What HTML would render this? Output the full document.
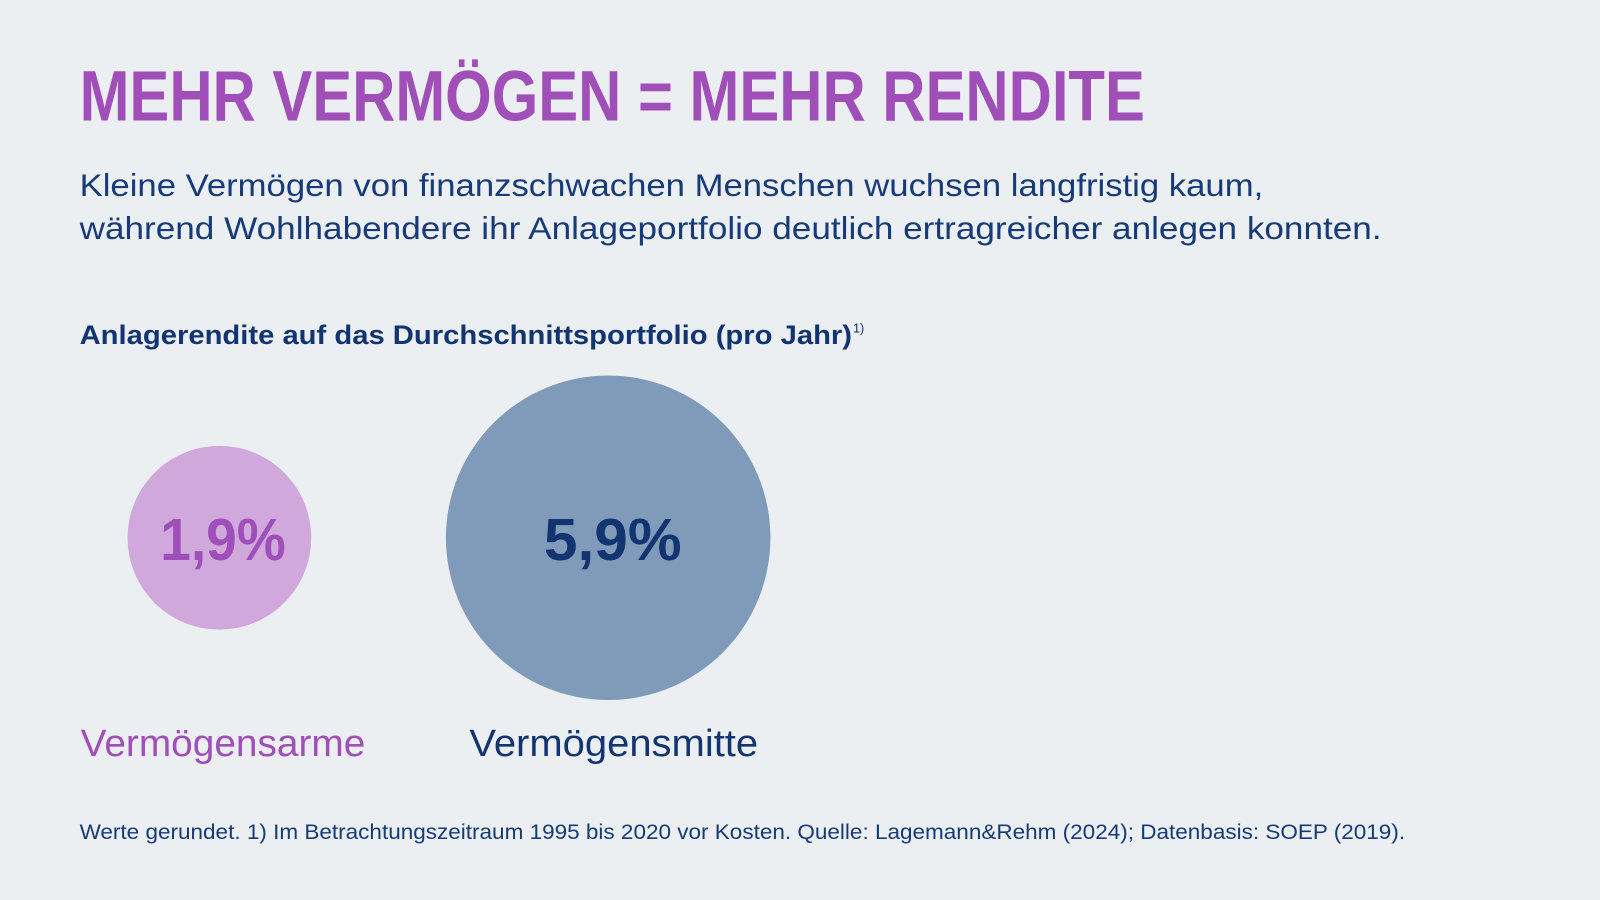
<!DOCTYPE html>
<html><head><meta charset="utf-8"><style>
html,body{margin:0;padding:0;background:#ebeff2;}
svg{display:block}
text{font-family:"Liberation Sans",sans-serif;}
</style></head><body>
<svg width="1600" height="900" viewBox="0 0 1568 882" preserveAspectRatio="none" xmlns="http://www.w3.org/2000/svg">
<rect width="1568" height="882" fill="#ebeff2"/>
<text x="78" y="118" font-size="70" font-weight="bold" fill="#a04fb9" textLength="1044" lengthAdjust="spacingAndGlyphs">MEHR VERMÖGEN = MEHR RENDITE</text>
<text x="78" y="192" font-size="31" fill="#173a78" textLength="1160" lengthAdjust="spacingAndGlyphs">Kleine Vermögen von finanzschwachen Menschen wuchsen langfristig kaum,</text>
<text x="78" y="234" font-size="31" fill="#173a78" textLength="1276" lengthAdjust="spacingAndGlyphs">während Wohlhabendere ihr Anlageportfolio deutlich ertragreicher anlegen konnten.</text>
<text x="78" y="337" font-size="26" font-weight="bold" fill="#123470" textLength="757" lengthAdjust="spacingAndGlyphs">Anlagerendite auf das Durchschnittsportfolio (pro Jahr)</text>
<text x="836" y="326" font-size="13" fill="#123470" textLength="11" lengthAdjust="spacingAndGlyphs">1)</text>
<circle cx="215" cy="527" r="90" fill="#d0a8dc"/>
<circle cx="596" cy="527" r="159" fill="#7f9bb9"/>
<text x="157" y="549" font-size="58" font-weight="bold" fill="#9f4fb9" textLength="123" lengthAdjust="spacingAndGlyphs">1,9%</text>
<text x="533" y="549" font-size="58" font-weight="bold" fill="#123470" textLength="135" lengthAdjust="spacingAndGlyphs">5,9%</text>
<text x="79" y="741" font-size="37" fill="#a04fb9" textLength="279" lengthAdjust="spacingAndGlyphs">Vermögensarme</text>
<text x="460" y="741" font-size="37" fill="#123470" textLength="283" lengthAdjust="spacingAndGlyphs">Vermögensmitte</text>
<text x="78" y="822" font-size="21" fill="#173a78" textLength="1299" lengthAdjust="spacingAndGlyphs">Werte gerundet. 1) Im Betrachtungszeitraum 1995 bis 2020 vor Kosten. Quelle: Lagemann&amp;Rehm (2024); Datenbasis: SOEP (2019).</text>
</svg>
</body></html>
